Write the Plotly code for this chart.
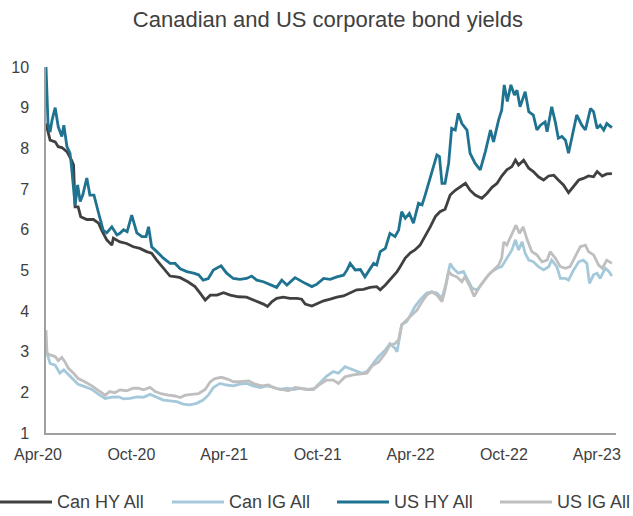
import plotly.graph_objects as go

# ---------------- data ----------------
us_hy_dates = [
    "2020-04-01", "2020-04-05", "2020-04-09", "2020-04-13", "2020-04-19", "2020-04-25", "2020-05-02", "2020-05-06",
    "2020-05-12", "2020-05-18", "2020-05-21", "2020-05-28", "2020-06-02", "2020-06-07", "2020-06-12", "2020-06-20",
    "2020-06-26", "2020-07-04", "2020-07-13", "2020-07-22", "2020-07-29", "2020-08-08", "2020-08-18", "2020-08-24",
    "2020-08-31", "2020-09-07", "2020-09-16", "2020-09-26", "2020-10-06", "2020-10-14", "2020-10-19", "2020-10-25",
    "2020-11-04", "2020-11-17", "2020-11-30", "2020-12-10", "2020-12-20", "2021-01-02", "2021-01-15", "2021-01-25",
    "2021-02-03", "2021-02-13", "2021-02-23", "2021-03-10", "2021-03-21", "2021-04-03", "2021-04-16", "2021-04-29",
    "2021-05-09", "2021-05-19", "2021-06-01", "2021-06-14", "2021-06-27", "2021-07-07", "2021-07-17", "2021-08-02",
    "2021-08-12", "2021-08-22", "2021-09-04", "2021-09-14", "2021-09-27", "2021-10-10", "2021-10-23", "2021-11-05",
    "2021-11-12", "2021-11-18", "2021-11-28", "2021-12-08", "2021-12-17", "2021-12-27", "2022-01-03", "2022-01-09",
    "2022-01-16", "2022-01-26", "2022-02-04", "2022-02-14", "2022-02-21", "2022-02-27", "2022-03-06", "2022-03-14",
    "2022-03-22", "2022-04-01", "2022-04-08", "2022-04-14", "2022-04-21", "2022-04-30", "2022-05-07", "2022-05-12",
    "2022-05-17", "2022-05-23", "2022-05-30", "2022-06-05", "2022-06-12", "2022-06-18", "2022-06-25", "2022-07-05",
    "2022-07-11", "2022-07-21", "2022-07-31", "2022-08-10", "2022-08-20", "2022-08-26", "2022-09-05", "2022-09-11",
    "2022-09-16", "2022-09-22", "2022-09-29", "2022-10-06", "2022-10-11", "2022-10-17", "2022-10-27", "2022-11-03",
    "2022-11-12", "2022-11-19", "2022-11-26", "2022-12-05", "2022-12-09", "2022-12-18", "2022-12-25", "2022-12-31",
    "2023-01-07", "2023-01-14", "2023-01-20", "2023-01-27", "2023-02-05", "2023-02-15", "2023-02-22", "2023-03-04",
    "2023-03-10", "2023-03-17", "2023-03-23", "2023-03-30", "2023-04-05", "2023-04-15",
]
us_hy_values = [
    10.0, 8.6, 8.4, 8.7, 9.0, 8.53, 8.29, 8.57,
    8.04, 7.88, 7.55, 6.6, 7.1, 6.69, 6.85, 7.27,
    6.85, 6.85, 6.41, 5.99, 5.92, 6.07, 5.87, 5.91,
    6.0, 5.95, 6.36, 5.92, 5.83, 5.83, 6.07, 5.58,
    5.46, 5.3, 5.17, 5.17, 5.04, 4.97, 4.93, 4.89,
    4.76, 4.80, 5.01, 5.11, 4.93, 4.80, 4.78, 4.80,
    4.86, 4.76, 4.72, 4.64, 4.58, 4.76, 4.64, 4.82,
    4.76, 4.68, 4.60, 4.66, 4.80, 4.78, 4.84, 4.88,
    5.01, 5.17, 5.01, 5.02, 4.84, 5.05, 5.17, 5.13,
    5.46, 5.54, 5.91, 5.83, 5.99, 6.44, 6.28, 6.40,
    6.16, 6.65, 6.61, 6.85, 7.14, 7.55, 7.84, 7.80,
    7.14, 7.14, 7.63, 8.49, 8.45, 8.86, 8.61, 8.45,
    7.88, 7.63, 7.47, 7.92, 8.45, 8.16, 8.70, 8.94,
    9.56, 9.15, 9.56, 9.31, 9.43, 9.02, 9.39, 8.90,
    8.82, 8.45, 8.57, 8.65, 8.41, 9.02, 8.65, 8.25,
    8.29, 8.20, 7.88, 8.29, 8.82, 8.57, 8.45, 8.98,
    8.90, 8.49, 8.57, 8.45, 8.61, 8.51,
]

can_hy_dates = [
    "2020-04-01", "2020-04-09", "2020-04-19", "2020-04-25", "2020-05-02", "2020-05-12", "2020-05-21", "2020-05-25",
    "2020-05-28", "2020-06-03", "2020-06-08", "2020-06-20", "2020-07-03", "2020-07-13", "2020-07-19", "2020-07-29",
    "2020-08-08", "2020-08-11", "2020-08-24", "2020-09-06", "2020-09-19", "2020-10-02", "2020-10-15", "2020-10-25",
    "2020-11-04", "2020-11-17", "2020-11-30", "2020-12-13", "2020-12-20", "2021-01-04", "2021-01-18", "2021-01-28",
    "2021-02-07", "2021-02-17", "2021-03-02", "2021-03-15", "2021-03-28", "2021-04-13", "2021-04-29", "2021-05-16",
    "2021-06-01", "2021-06-09", "2021-06-18", "2021-06-27", "2021-07-10", "2021-07-23", "2021-08-06", "2021-08-15",
    "2021-08-22", "2021-09-04", "2021-09-14", "2021-09-27", "2021-10-10", "2021-10-23", "2021-11-05", "2021-11-18",
    "2021-12-01", "2021-12-14", "2021-12-27", "2022-01-09", "2022-01-16", "2022-01-26", "2022-02-04", "2022-02-18",
    "2022-02-24", "2022-03-06", "2022-03-16", "2022-03-25", "2022-04-04", "2022-04-14", "2022-04-24", "2022-05-04",
    "2022-05-13", "2022-05-23", "2022-06-02", "2022-06-12", "2022-06-22", "2022-07-02", "2022-07-11", "2022-07-21",
    "2022-08-03", "2022-08-13", "2022-08-23", "2022-09-02", "2022-09-11", "2022-09-21", "2022-10-01", "2022-10-08",
    "2022-10-14", "2022-10-24", "2022-11-03", "2022-11-12", "2022-11-22", "2022-12-02", "2022-12-12", "2022-12-22",
    "2022-12-31", "2023-01-10", "2023-01-20", "2023-01-30", "2023-02-09", "2023-02-18", "2023-02-28", "2023-03-10",
    "2023-03-17", "2023-03-27", "2023-04-05", "2023-04-15",
]
can_hy_values = [
    8.61, 8.2, 8.16, 8.04, 8.02, 7.92, 7.71, 7.59,
    6.56, 6.56, 6.32, 6.25, 6.25, 6.16, 5.99, 5.75,
    5.62, 5.79, 5.70, 5.66, 5.58, 5.54, 5.46, 5.42,
    5.25, 5.05, 4.86, 4.84, 4.82, 4.72, 4.60, 4.44,
    4.27, 4.39, 4.39, 4.45, 4.39, 4.35, 4.34, 4.25,
    4.17, 4.11, 4.23, 4.31, 4.34, 4.31, 4.31, 4.29,
    4.17, 4.12, 4.17, 4.25, 4.29, 4.34, 4.37, 4.44,
    4.52, 4.53, 4.58, 4.60, 4.52, 4.64, 4.76, 4.97,
    5.09, 5.30, 5.43, 5.50, 5.62, 5.83, 6.07, 6.32,
    6.44, 6.50, 6.85, 6.97, 7.05, 7.14, 6.97, 6.85,
    6.77, 6.89, 7.04, 7.14, 7.32, 7.47, 7.55, 7.71,
    7.59, 7.71, 7.51, 7.43, 7.30, 7.22, 7.32, 7.34,
    7.22, 7.10, 6.91, 7.06, 7.22, 7.26, 7.32, 7.30,
    7.43, 7.32, 7.37, 7.38,
]

us_ig_dates = [
    "2020-04-01", "2020-04-03", "2020-04-09", "2020-04-19", "2020-04-25", "2020-05-02", "2020-05-08", "2020-05-15",
    "2020-05-25", "2020-06-03", "2020-06-16", "2020-06-30", "2020-07-13", "2020-07-26", "2020-08-04", "2020-08-14",
    "2020-08-24", "2020-09-06", "2020-09-19", "2020-09-29", "2020-10-09", "2020-10-22", "2020-11-01", "2020-11-14",
    "2020-11-27", "2020-12-10", "2020-12-20", "2020-12-30", "2021-01-12", "2021-01-25", "2021-02-07", "2021-02-17",
    "2021-02-26", "2021-03-11", "2021-03-24", "2021-04-03", "2021-04-16", "2021-05-03", "2021-05-16", "2021-05-29",
    "2021-06-11", "2021-06-24", "2021-07-07", "2021-07-20", "2021-08-02", "2021-08-15", "2021-08-28", "2021-09-10",
    "2021-09-20", "2021-10-03", "2021-10-16", "2021-10-26", "2021-11-08", "2021-11-24", "2021-12-11", "2021-12-21",
    "2021-12-31", "2022-01-13", "2022-01-26", "2022-02-04", "2022-02-14", "2022-02-21", "2022-02-27", "2022-03-09",
    "2022-03-19", "2022-03-29", "2022-04-08", "2022-04-17", "2022-04-27", "2022-05-07", "2022-05-17", "2022-05-23",
    "2022-05-30", "2022-06-05", "2022-06-15", "2022-06-25", "2022-07-01", "2022-07-11", "2022-07-19", "2022-07-28",
    "2022-08-06", "2022-08-16", "2022-08-26", "2022-09-05", "2022-09-11", "2022-09-15", "2022-09-21", "2022-10-01",
    "2022-10-09", "2022-10-16", "2022-10-23", "2022-10-31", "2022-11-09", "2022-11-19", "2022-11-29", "2022-12-09",
    "2022-12-15", "2022-12-25", "2023-01-04", "2023-01-14", "2023-01-23", "2023-02-02", "2023-02-12", "2023-02-22",
    "2023-02-28", "2023-03-10", "2023-03-20", "2023-03-27", "2023-04-05", "2023-04-15",
]
us_ig_values = [
    3.53, 2.96, 2.92, 2.88, 2.78, 2.86, 2.75, 2.59,
    2.47, 2.34, 2.26, 2.16, 2.04, 1.93, 2.02, 1.99,
    2.06, 2.04, 2.10, 2.10, 2.06, 2.12, 2.02, 1.96,
    1.93, 1.91, 1.87, 1.93, 1.95, 1.97, 2.07, 2.26,
    2.34, 2.37, 2.32, 2.26, 2.26, 2.28, 2.20, 2.16,
    2.18, 2.10, 2.07, 2.04, 2.12, 2.10, 2.07, 2.10,
    2.20, 2.30, 2.30, 2.22, 2.38, 2.43, 2.45, 2.47,
    2.65, 2.75, 2.96, 3.16, 3.20, 3.29, 3.66, 3.78,
    3.90, 4.02, 4.23, 4.39, 4.47, 4.39, 4.23, 4.52,
    4.97, 4.89, 4.84, 4.72, 4.84, 4.60, 4.36, 4.56,
    4.72, 4.89, 5.01, 5.13, 5.30, 5.70, 5.62, 5.87,
    6.11, 5.91, 6.07, 5.75, 5.46, 5.38, 5.21, 5.25,
    5.46, 5.30, 5.09, 5.05, 5.09, 5.34, 5.58, 5.62,
    5.46, 5.38, 5.13, 5.05, 5.25, 5.17,
]

can_ig_dates = [
    "2020-04-01", "2020-04-09", "2020-04-19", "2020-04-28", "2020-05-06", "2020-05-15", "2020-05-25", "2020-06-03",
    "2020-06-16", "2020-06-30", "2020-07-13", "2020-07-26", "2020-08-08", "2020-08-21", "2020-08-31", "2020-09-13",
    "2020-09-26", "2020-10-09", "2020-10-22", "2020-11-04", "2020-11-17", "2020-11-30", "2020-12-13", "2020-12-26",
    "2021-01-08", "2021-01-21", "2021-02-03", "2021-02-13", "2021-02-23", "2021-03-08", "2021-03-21", "2021-04-03",
    "2021-04-16", "2021-04-29", "2021-05-12", "2021-05-26", "2021-06-08", "2021-06-21", "2021-07-04", "2021-07-17",
    "2021-07-30", "2021-08-12", "2021-08-25", "2021-09-07", "2021-09-20", "2021-10-03", "2021-10-16", "2021-10-26",
    "2021-11-08", "2021-11-24", "2021-12-11", "2021-12-21", "2021-12-31", "2022-01-13", "2022-01-26", "2022-02-04",
    "2022-02-14", "2022-02-18", "2022-02-27", "2022-03-09", "2022-03-16", "2022-03-25", "2022-04-04", "2022-04-17",
    "2022-04-27", "2022-05-07", "2022-05-17", "2022-05-25", "2022-06-02", "2022-06-08", "2022-06-18", "2022-06-28",
    "2022-07-05", "2022-07-15", "2022-07-25", "2022-08-03", "2022-08-13", "2022-08-23", "2022-09-02", "2022-09-11",
    "2022-09-21", "2022-10-01", "2022-10-08", "2022-10-14", "2022-10-21", "2022-10-27", "2022-11-03", "2022-11-12",
    "2022-11-22", "2022-12-02", "2022-12-12", "2022-12-18", "2022-12-28", "2023-01-04", "2023-01-14", "2023-01-20",
    "2023-01-30", "2023-02-09", "2023-02-18", "2023-02-25", "2023-03-02", "2023-03-10", "2023-03-17", "2023-03-23",
    "2023-04-02", "2023-04-09", "2023-04-15",
]
can_ig_values = [
    3.04, 2.71, 2.67, 2.47, 2.55, 2.43, 2.30, 2.20,
    2.14, 2.07, 1.95, 1.85, 1.88, 1.89, 1.84, 1.85,
    1.89, 1.88, 1.95, 1.88, 1.81, 1.79, 1.77, 1.71,
    1.69, 1.73, 1.81, 1.93, 2.12, 2.22, 2.18, 2.16,
    2.20, 2.22, 2.16, 2.12, 2.16, 2.12, 2.07, 2.10,
    2.07, 2.10, 2.07, 2.07, 2.24, 2.40, 2.51, 2.47,
    2.63, 2.55, 2.47, 2.51, 2.67, 2.88, 3.04, 3.20,
    3.08, 3.00, 3.66, 3.74, 3.90, 4.11, 4.27, 4.44,
    4.47, 4.44, 4.31, 4.68, 5.17, 5.05, 4.93, 4.97,
    4.80, 4.56, 4.52, 4.68, 4.84, 4.97, 5.05, 5.09,
    5.30, 5.50, 5.75, 5.50, 5.70, 5.42, 5.25, 5.21,
    5.09, 5.01, 5.09, 5.25, 5.09, 4.80, 4.80, 4.76,
    5.01, 5.21, 5.25, 5.17, 4.68, 4.89, 4.93, 4.80,
    5.05, 4.97, 4.86,
]

tick_dates = ["2020-04-01", "2020-10-01", "2021-04-01", "2021-10-01", "2022-04-01", "2022-10-01", "2023-04-01"]
tick_labels = ["Apr-20", "Oct-20", "Apr-21", "Oct-21", "Apr-22", "Oct-22", "Apr-23"]
y_ticks = [1, 2, 3, 4, 5, 6, 7, 8, 9, 10]

series = [
    ("Can HY All", can_hy_dates, can_hy_values, "#404040"),
    ("Can IG All", can_ig_dates, can_ig_values, "#a5c9da"),
    ("US HY All", us_hy_dates, us_hy_values, "#1f7391"),
    ("US IG All", us_ig_dates, us_ig_values, "#bfbfbf"),
]
draw_order = [1, 3, 0, 2]  # IG lines underneath

FONT = "Liberation Sans, Arial, sans-serif"
W, H = 633, 516
ML, MR, MT, MB = 46, 17, 67, 83

fig = go.Figure()
for i in draw_order:
    name, d, v, c = series[i]
    fig.add_trace(go.Scatter(x=d, y=v, mode="lines", name=name,
                             line=dict(color=c, width=2.8), showlegend=False))

# custom legend (line sample + text) below the plot
plot_w = W - ML - MR
plot_h = H - MT - MB
leg_y = -(502 - (H - MB)) / plot_h
leg_x0 = [0, 172, 337, 500]
for (name, _, _, c), x0 in zip(series, leg_x0):
    fig.add_shape(type="line", xref="paper", yref="paper",
                  x0=(x0 - ML) / plot_w, x1=(x0 + 52 - ML) / plot_w,
                  y0=leg_y, y1=leg_y, line=dict(color=c, width=2.8))
    fig.add_annotation(text=name, xref="paper", yref="paper",
                       x=(x0 + 55 - ML) / plot_w, y=leg_y,
                       xanchor="left", yanchor="middle", showarrow=False,
                       font=dict(family=FONT, size=18, color="#404040"))

fig.update_layout(
    width=W, height=H,
    margin=dict(l=ML, r=MR, t=MT, b=MB),
    paper_bgcolor="white", plot_bgcolor="white",
    title=dict(text="Canadian and US corporate bond yields", x=0.518, xanchor="center",
               y=1 - 19 / H, yanchor="middle", yref="container",
               font=dict(family=FONT, size=22, color="#404040")),
    xaxis=dict(type="date", range=["2020-04-01", "2023-04-23"],
               tickvals=tick_dates, ticktext=tick_labels, ticks="",
               showgrid=False, zeroline=False, showline=True, linecolor="#a0a0a0", linewidth=1.5,
               tickfont=dict(family=FONT, size=16, color="#404040"),
               ticklabelshift=-8, ticklabelstandoff=6),
    yaxis=dict(range=[1, 10], tickvals=y_ticks, ticks="",
               showgrid=False, zeroline=False, showline=True, linecolor="#a0a0a0", linewidth=1.5,
               tickfont=dict(family=FONT, size=16, color="#404040"),
               ticklabelstandoff=12),
    showlegend=False,
)

fig.write_html("out.html")
